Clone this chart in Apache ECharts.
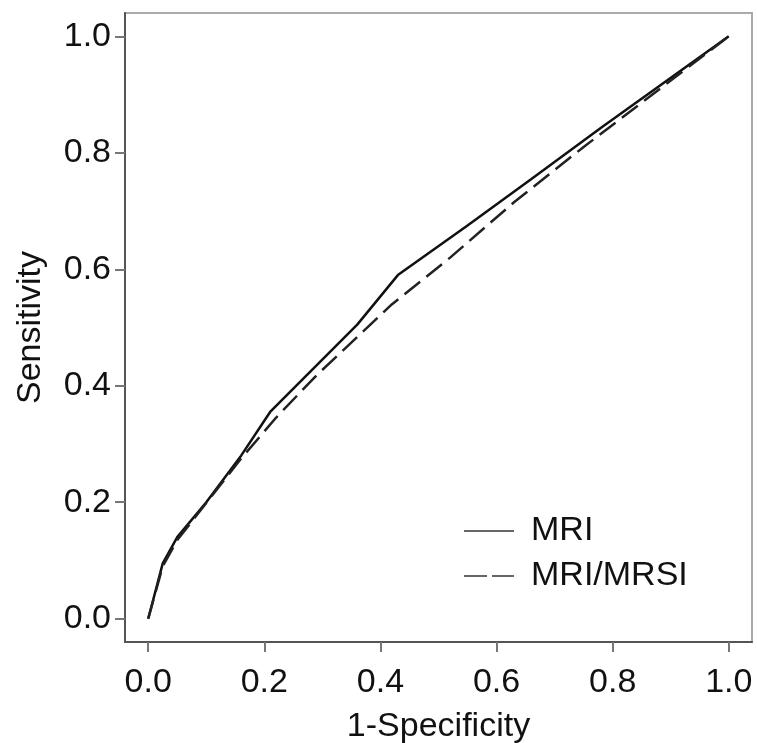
<!DOCTYPE html>
<html>
<head>
<meta charset="utf-8">
<script src="https://cdn.jsdelivr.net/npm/echarts@6/dist/echarts.min.js"></script>
<style>
html,body{margin:0;padding:0;background:#fff;}
#chart{width:757px;height:743px;}
</style>
</head>
<body>
<div id="chart"></div>
<script>
// Data
var mriX = [0, 0.025, 0.05, 0.10, 0.16, 0.21, 0.36, 0.43, 0.55, 0.66, 0.78, 1.0];
var mriY = [0, 0.095, 0.14, 0.20, 0.28, 0.355, 0.505, 0.59, 0.675, 0.755, 0.843, 1.0];
var mrsiX = [0, 0.025, 0.05, 0.16, 0.22, 0.29, 0.42, 0.52, 0.63, 0.75, 1.0];
var mrsiY = [0, 0.09, 0.135, 0.275, 0.345, 0.418, 0.54, 0.62, 0.715, 0.81, 1.0];
var tickValues = [0, 0.2, 0.4, 0.6, 0.8, 1.0];
var seriesNames = ['MRI', 'MRI/MRSI'];
var xTitle = '1-Specificity';
var yTitle = 'Sensitivity';

function pairs(xs, ys) { return xs.map(function (x, i) { return [x, ys[i]]; }); }

var FONT = '"Liberation Sans", Arial, Helvetica, sans-serif';
var chart = echarts.init(document.getElementById('chart'), null, {renderer: 'canvas'});

function axisCommon(name, nameGap) {
  return {
    type: 'value', min: -0.04, max: 1.04,
    name: name, nameLocation: 'middle', nameGap: nameGap,
    nameTextStyle: {fontFamily: FONT, fontSize: 34, color: '#111'},
    axisLine: {show: true, onZero: false, lineStyle: {color: '#555', width: 2}},
    axisTick: {show: true, inside: false, length: 10, customValues: tickValues, lineStyle: {color: '#777', width: 2}},
    axisLabel: {customValues: tickValues, fontFamily: FONT, fontSize: 34, color: '#111',
      formatter: function (v) { return v.toFixed(1); }},
    splitLine: {show: false}
  };
}

var xAxis = axisCommon(xTitle, 68);
xAxis.axisLabel.margin = 24;
var yAxis = axisCommon(yTitle, 77);
yAxis.axisLabel.margin = 14;

chart.setOption({
  animation: false,
  backgroundColor: '#fff',
  grid: {left: 125, right: 5, top: 13, bottom: 101, show: true, borderColor: '#aaa', borderWidth: 2,
         containLabel: false, outerBoundsMode: 'none'},
  xAxis: xAxis,
  yAxis: yAxis,
  legend: {
    orient: 'vertical', left: 463, top: 511, padding: 0,
    itemWidth: 50, itemHeight: 14, itemGap: 5,
    data: [
      {name: seriesNames[0], lineStyle: {type: 'solid', width: 1.5, color: '#333'}},
      {name: seriesNames[1], lineStyle: {type: [23, 5], width: 2, color: '#666'}}
    ],
    itemStyle: {opacity: 0},
    textStyle: {fontFamily: FONT, fontSize: 34, color: '#111', lineHeight: 40, padding: [0, 0, 0, 12]}
  },
  series: [
    {name: seriesNames[0], type: 'line', data: pairs(mriX, mriY), symbol: 'none', legendIcon: 'none',
     lineStyle: {color: '#111', width: 2.5, type: 'solid'}, itemStyle: {color: '#111'}},
    {name: seriesNames[1], type: 'line', data: pairs(mrsiX, mrsiY), symbol: 'none', legendIcon: 'none',
     lineStyle: {color: '#222', width: 2.5, type: [20, 8]}, itemStyle: {color: '#222'}}
  ]
});
</script>
</body>
</html>
